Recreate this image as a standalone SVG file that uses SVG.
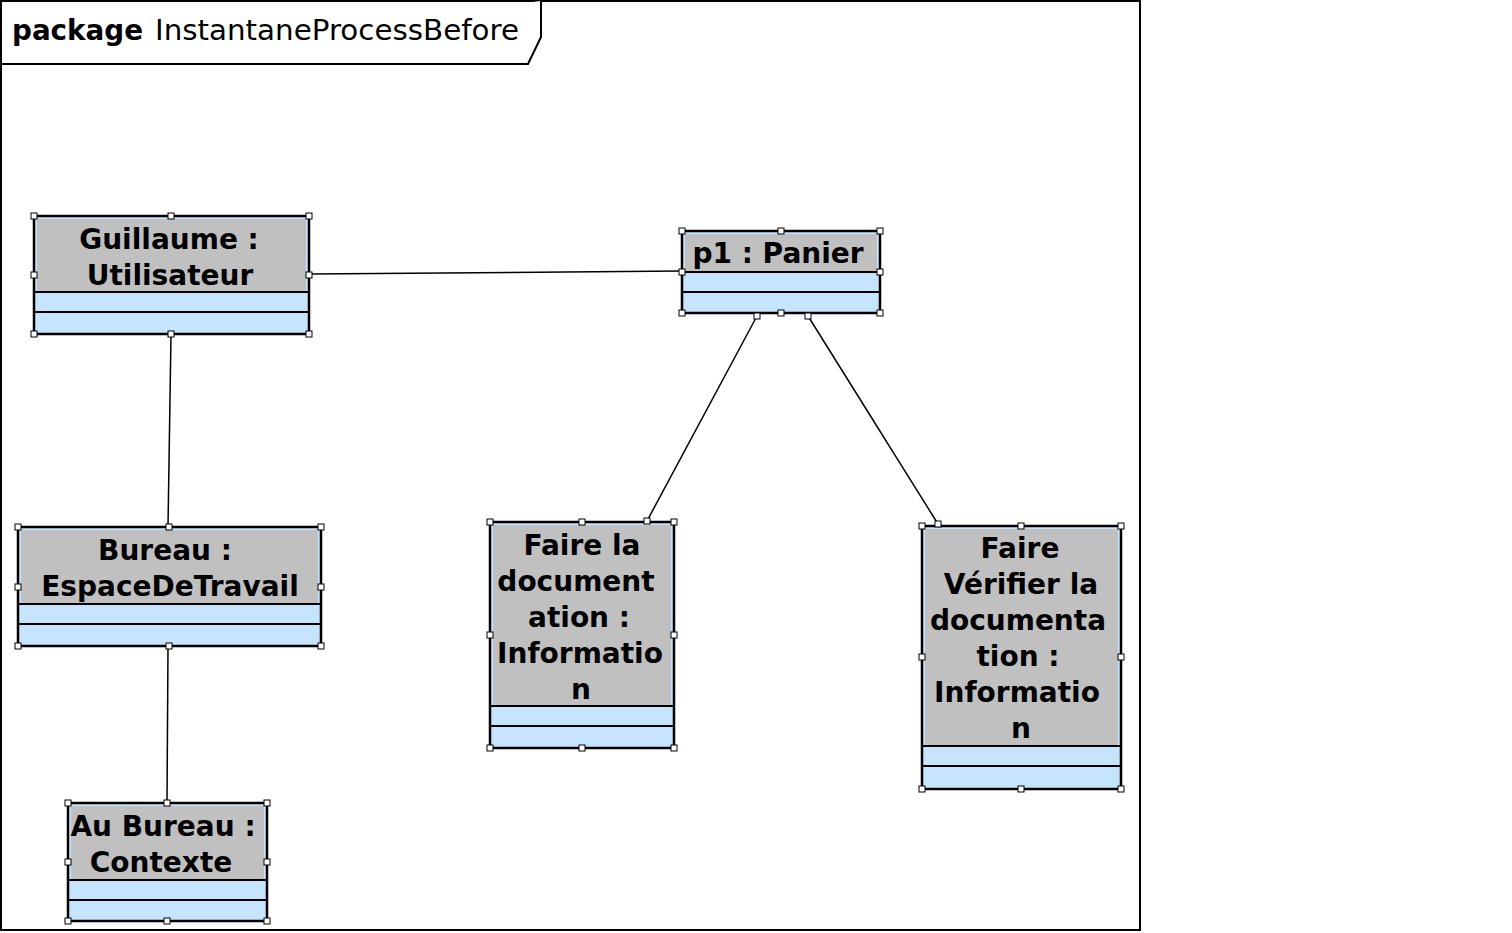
<svg xmlns="http://www.w3.org/2000/svg" width="1512" height="933" viewBox="0 0 1512 933">
<style>
.frame{fill:#ffffff;stroke:#000;stroke-width:2}
.box{fill:#c6e4fc;stroke:#000;stroke-width:2.5}
.hdr{fill:#c0c0c0;stroke:none}
.sep{stroke:#000;stroke-width:2}
.conn{stroke:#000;stroke-width:1.5;fill:none}
.h{fill:#fff;stroke:#000;stroke-width:1}
.t{font-family:"DejaVu Sans","Liberation Sans",sans-serif;font-weight:bold;font-size:28px;fill:#000;text-anchor:middle}
.pk{font-family:"DejaVu Sans","Liberation Sans",sans-serif;font-size:28px;fill:#000}
</style>
<rect x="0" y="0" width="1512" height="933" fill="#fff"/>
<g id="package">
<rect class="frame" x="1" y="1" width="1139" height="929"/>
<path class="frame" d="M1 64 L528 64 L541 37 L541 1" fill="none"/>
<text class="pk" x="12" y="40" font-weight="bold" textLength="131" lengthAdjust="spacingAndGlyphs">package</text>
<text class="pk" x="155" y="40" textLength="364" lengthAdjust="spacingAndGlyphs">InstantaneProcessBefore</text>
</g>
<g id="connectors">
<line class="conn" x1="310" y1="274" x2="682" y2="271"/>
<line class="conn" x1="171" y1="335" x2="168" y2="527"/>
<line class="conn" x1="168" y1="647" x2="167" y2="803"/>
<line class="conn" x1="757" y1="316" x2="647" y2="521"/>
<line class="conn" x1="808" y1="316" x2="938" y2="524"/>
</g>
<g id="guillaume">
<rect class="box" x="34" y="216" width="275" height="118"/>
<rect class="hdr" x="37" y="219" width="269" height="72"/>
<line class="sep" x1="35" y1="292" x2="308" y2="292"/>
<line class="sep" x1="35" y1="312" x2="308" y2="312"/>
<text class="t" x="169" y="249">Guillaume :</text>
<text class="t" x="170" y="285">Utilisateur</text>
<rect class="h" x="31" y="213" width="6" height="6"/><rect class="h" x="168" y="213" width="6" height="6"/><rect class="h" x="306" y="213" width="6" height="6"/>
<rect class="h" x="31" y="272" width="6" height="6"/><rect class="h" x="306" y="272" width="6" height="6"/>
<rect class="h" x="31" y="331" width="6" height="6"/><rect class="h" x="168" y="331" width="6" height="6"/><rect class="h" x="306" y="331" width="6" height="6"/>
</g>
<g id="panier">
<rect class="box" x="682" y="231" width="198" height="82"/>
<rect class="hdr" x="685" y="234" width="192" height="37"/>
<line class="sep" x1="683" y1="272" x2="879" y2="272"/>
<line class="sep" x1="683" y1="292" x2="879" y2="292"/>
<text class="t" x="778" y="263">p1 : Panier</text>
<rect class="h" x="679" y="228" width="6" height="6"/><rect class="h" x="778" y="228" width="6" height="6"/><rect class="h" x="877" y="228" width="6" height="6"/>
<rect class="h" x="679" y="269" width="6" height="6"/><rect class="h" x="877" y="269" width="6" height="6"/>
<rect class="h" x="679" y="310" width="6" height="6"/><rect class="h" x="778" y="310" width="6" height="6"/><rect class="h" x="877" y="310" width="6" height="6"/>
<rect class="h" x="754" y="313" width="6" height="6"/><rect class="h" x="805" y="313" width="6" height="6"/>
</g>
<g id="faire-doc">
<rect class="box" x="490" y="522" width="184" height="226"/>
<rect class="hdr" x="493" y="525" width="178" height="180"/>
<line class="sep" x1="491" y1="706" x2="673" y2="706"/>
<line class="sep" x1="491" y1="726" x2="673" y2="726"/>
<text class="t" x="582" y="555">Faire la</text>
<text class="t" x="576" y="591">document</text>
<text class="t" x="579" y="627">ation :</text>
<text class="t" x="580" y="663">Informatio</text>
<text class="t" x="581" y="699">n</text>
<rect class="h" x="487" y="519" width="6" height="6"/><rect class="h" x="579" y="519" width="6" height="6"/><rect class="h" x="671" y="519" width="6" height="6"/>
<rect class="h" x="487" y="632" width="6" height="6"/><rect class="h" x="671" y="632" width="6" height="6"/>
<rect class="h" x="487" y="745" width="6" height="6"/><rect class="h" x="579" y="745" width="6" height="6"/><rect class="h" x="671" y="745" width="6" height="6"/>
<rect class="h" x="644" y="518" width="6" height="6"/>
</g>
<g id="faire-verifier">
<rect class="box" x="922" y="526" width="199" height="263"/>
<rect class="hdr" x="925" y="529" width="193" height="216"/>
<line class="sep" x1="923" y1="746" x2="1120" y2="746"/>
<line class="sep" x1="923" y1="766" x2="1120" y2="766"/>
<text class="t" x="1020" y="558">Faire</text>
<text class="t" x="1021" y="594">Vérifier la</text>
<text class="t" x="1018" y="630">documenta</text>
<text class="t" x="1018" y="666">tion :</text>
<text class="t" x="1017" y="702">Informatio</text>
<text class="t" x="1021" y="738">n</text>
<rect class="h" x="919" y="523" width="6" height="6"/><rect class="h" x="1018" y="523" width="6" height="6"/><rect class="h" x="1118" y="523" width="6" height="6"/>
<rect class="h" x="919" y="654" width="6" height="6"/><rect class="h" x="1118" y="654" width="6" height="6"/>
<rect class="h" x="919" y="786" width="6" height="6"/><rect class="h" x="1018" y="786" width="6" height="6"/><rect class="h" x="1118" y="786" width="6" height="6"/>
<rect class="h" x="935" y="521" width="6" height="6"/>
</g>
<g id="bureau">
<rect class="box" x="18" y="527" width="303" height="119"/>
<rect class="hdr" x="21" y="530" width="297" height="73"/>
<line class="sep" x1="19" y1="604" x2="320" y2="604"/>
<line class="sep" x1="19" y1="624" x2="320" y2="624"/>
<text class="t" x="165" y="560">Bureau :</text>
<text class="t" x="170" y="596">EspaceDeTravail</text>
<rect class="h" x="15" y="524" width="6" height="6"/><rect class="h" x="166" y="524" width="6" height="6"/><rect class="h" x="318" y="524" width="6" height="6"/>
<rect class="h" x="15" y="584" width="6" height="6"/><rect class="h" x="318" y="584" width="6" height="6"/>
<rect class="h" x="15" y="643" width="6" height="6"/><rect class="h" x="166" y="643" width="6" height="6"/><rect class="h" x="318" y="643" width="6" height="6"/>
</g>
<g id="au-bureau">
<rect class="box" x="68" y="803" width="199" height="118"/>
<rect class="hdr" x="71" y="806" width="193" height="73"/>
<line class="sep" x1="69" y1="880" x2="266" y2="880"/>
<line class="sep" x1="69" y1="900" x2="266" y2="900"/>
<text class="t" x="163" y="836">Au Bureau :</text>
<text class="t" x="161" y="872">Contexte</text>
<rect class="h" x="65" y="800" width="6" height="6"/><rect class="h" x="164" y="800" width="6" height="6"/><rect class="h" x="264" y="800" width="6" height="6"/>
<rect class="h" x="65" y="859" width="6" height="6"/><rect class="h" x="264" y="859" width="6" height="6"/>
<rect class="h" x="65" y="918" width="6" height="6"/><rect class="h" x="164" y="918" width="6" height="6"/><rect class="h" x="264" y="918" width="6" height="6"/>
</g>
</svg>
